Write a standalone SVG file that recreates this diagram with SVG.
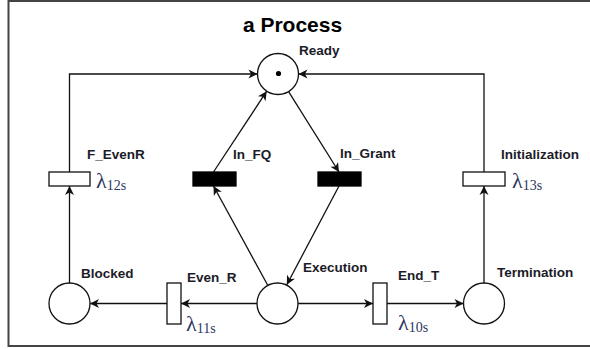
<svg xmlns="http://www.w3.org/2000/svg" width="590" height="349" viewBox="0 0 590 349">
<defs>
<marker id="arr" markerUnits="userSpaceOnUse" markerWidth="12" markerHeight="12" viewBox="-10 -6 12 12" refX="0" refY="0" orient="auto">
<path d="M0,0 L-9,-4.5 L-6.5,0 L-9,4.5 Z" fill="#111"/>
</marker>
<style>
.place{fill:#fff;stroke:#111;stroke-width:1.3}
.tr{fill:#fff;stroke:#111;stroke-width:1.3}
.imm{fill:#000;stroke:#000;stroke-width:1.3}
.lbl{font-family:"Liberation Sans",Arial,sans-serif;font-weight:bold;font-size:13.5px;fill:#1c1c28}
.lam{font-family:"Liberation Serif","Times New Roman",serif;font-size:22px;fill:#2a3560}
.sub{font-size:14px}
.arc{fill:none;stroke:#111;stroke-width:1.3;marker-end:url(#arr)}
</style>
</defs>
<rect x="8.5" y="1" width="600" height="345" fill="#fff" stroke="#444" stroke-width="2"/>
<text x="292.5" y="32" text-anchor="middle" font-family="Liberation Sans,Arial,sans-serif" font-weight="bold" font-size="21" fill="#000">a Process</text>

<g id="connectors">
<polyline class="arc" points="69.5,172 69.5,74 257.5,74"/>
<polyline class="arc" points="484,172 484,74 298.5,74"/>
<line class="arc" x1="213.5" y1="172" x2="266.7" y2="91.2"/>
<line class="arc" x1="288.6" y1="91.6" x2="339" y2="172"/>
<line class="arc" x1="339" y1="186" x2="286.8" y2="284.7"/>
<line class="arc" x1="267.6" y1="285" x2="213.5" y2="186"/>
<line class="arc" x1="257" y1="303.5" x2="181" y2="303.5"/>
<line class="arc" x1="167" y1="303.5" x2="90" y2="303.5"/>
<line class="arc" x1="69.5" y1="283" x2="69.5" y2="186"/>
<line class="arc" x1="298" y1="303.5" x2="373" y2="303.5"/>
<line class="arc" x1="387" y1="303.5" x2="463.5" y2="303.5"/>
<line class="arc" x1="484" y1="283" x2="484" y2="186"/>
</g>

<g id="Ready">
<circle class="place" cx="278" cy="74" r="20.5"/>
<circle cx="278.5" cy="73.5" r="2.6" fill="#000"/>
<text class="lbl" x="299" y="55">Ready</text>
</g>
<g id="In_FQ">
<rect class="imm" x="193" y="172" width="43" height="14"/>
<text class="lbl" x="233" y="159">In_FQ</text>
</g>
<g id="In_Grant">
<rect class="imm" x="318" y="172" width="43" height="14"/>
<text class="lbl" x="340" y="158">In_Grant</text>
</g>
<g id="F_EvenR">
<rect class="tr" x="49" y="172" width="41" height="14"/>
<text class="lbl" x="87" y="159">F_EvenR</text>
<text class="lam" x="96" y="188">λ<tspan class="sub" dy="2">12s</tspan></text>
</g>
<g id="Initialization">
<rect class="tr" x="463" y="172" width="42" height="14"/>
<text class="lbl" x="501" y="159">Initialization</text>
<text class="lam" x="512" y="188">λ<tspan class="sub" dy="2">13s</tspan></text>
</g>
<g id="Blocked">
<circle class="place" cx="69.5" cy="303.5" r="20.5"/>
<text class="lbl" x="81" y="278">Blocked</text>
</g>
<g id="Even_R">
<rect class="tr" x="167" y="283" width="14" height="41"/>
<text class="lbl" x="187" y="282">Even_R</text>
<text class="lam" x="186" y="331">λ<tspan class="sub" dy="2">11s</tspan></text>
</g>
<g id="Execution">
<circle class="place" cx="277.5" cy="303.5" r="20.5"/>
<text class="lbl" x="303" y="272">Execution</text>
</g>
<g id="End_T">
<rect class="tr" x="373" y="283" width="14" height="41"/>
<text class="lbl" x="398" y="280">End_T</text>
<text class="lam" x="398" y="330">λ<tspan class="sub" dy="2">10s</tspan></text>
</g>
<g id="Termination">
<circle class="place" cx="484" cy="303.5" r="20.5"/>
<text class="lbl" x="497" y="277">Termination</text>
</g>
</svg>
